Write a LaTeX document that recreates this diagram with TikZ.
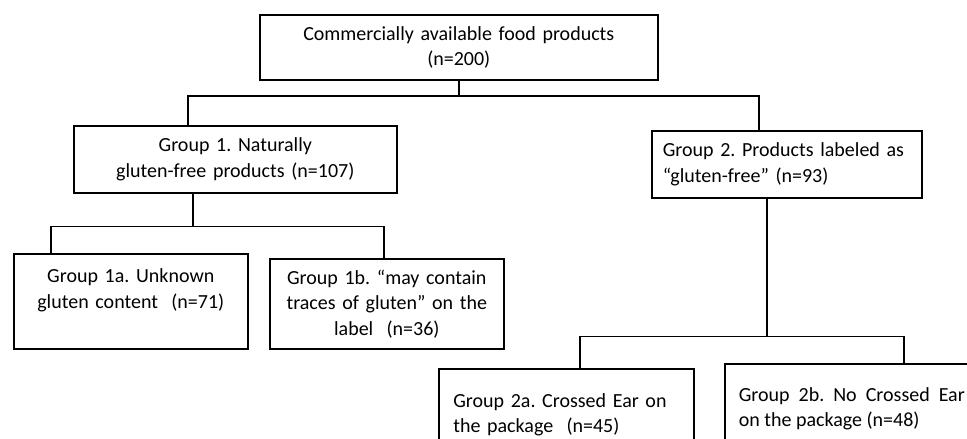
\documentclass[tikz,border=0pt]{standalone}
\usepackage{fontspec}
\setmainfont{Carlito}
\tikzset{
  grpbox/.style={draw,line width=1.6pt,anchor=north west,inner sep=0pt,
    font=\fontsize{20}{25.5}\selectfont\frenchspacing},
}
\begin{document}
\begin{tikzpicture}[x=1pt,y=-1pt,line cap=rect,line join=miter]
		\useasboundingbox (0,0) rectangle (967,439);
		\clip (0,0) rectangle (967,439);
		% boxes
		\node[grpbox,minimum width=398,minimum height=65,text width=380,align=center] (top) at (259,14) {Commercially available food products\\(n=200)};
		\node[grpbox,minimum width=323,minimum height=67,text width=300,align=center] (g1) at (73,125) {Group 1. Naturally\\gluten-free products (n=107)};
		\node[grpbox,minimum width=270,minimum height=67,text width=248,align=left] (g2) at (651,130) {Group 2. Products labeled as\\“gluten-free” (n=93)};
		\node[grpbox,minimum width=234,minimum height=95,text width=222,align=center] (g1a) at (13,253) {Group 1a. Unknown\\gluten content\ \ (n=71)\\\mbox{}};
		\node[grpbox,minimum width=234,minimum height=90,text width=222,align=center] (g1b) at (269,258) {Group 1b. “may contain\\traces of gluten” on the\\label\ \ (n=36)};
		\node[grpbox,minimum width=255,minimum height=92,text width=226,align=left] (g2a) at (438,368) {Group 2a. Crossed Ear on\\the package\ \ (n=45)};
		\node[grpbox,minimum width=254,minimum height=90,text width=226,align=justify] (g2b) at (724,363) {Group 2b. No Crossed Ear\linebreak on the package (n=48)};
		% connectors
		\draw[line width=1.6pt] (top.south) -- ++(0,15.5) coordinate (t1);
		\draw[line width=1.6pt] ([xshift=-47.5pt]g1.north) |- (t1) -| ([xshift=-28pt]g2.north);
		\draw[line width=1.6pt] ([xshift=-42.5pt]g1.south) -- ++(0,33) coordinate (t2);
		\draw[line width=1.6pt] ([xshift=-80pt]g1a.north) |- (t2) -| ([xshift=-3pt]g1b.north);
		\draw[line width=1.6pt] ([xshift=-20pt]g2.south) -- ++(0,138) coordinate (t3);
		\draw[line width=1.6pt] ([xshift=13.5pt]g2a.north) |- (t3) -| ([xshift=52pt]g2b.north);
	\end{tikzpicture}
\end{document}
